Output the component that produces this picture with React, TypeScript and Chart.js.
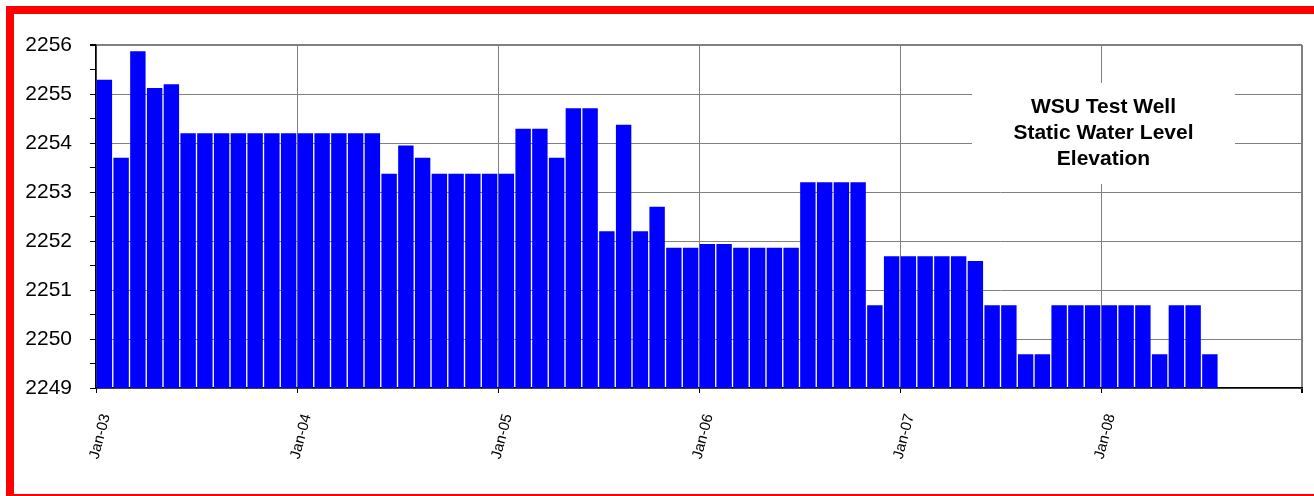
import React, { useEffect, useRef } from 'react';
import { Chart, registerables } from 'chart.js';

Chart.register(...registerables);

const FONT = '"Liberation Sans", Arial, Helvetica, sans-serif';

const yearLabels = ['Jan-03', 'Jan-04', 'Jan-05', 'Jan-06', 'Jan-07', 'Jan-08'];

const levels2003 = [2255.29, 2253.70, 2255.87, 2255.12, 2255.20, 2254.20, 2254.20, 2254.20, 2254.20, 2254.20, 2254.20, 2254.20];
const levels2004 = [2254.20, 2254.20, 2254.20, 2254.20, 2254.20, 2253.37, 2253.95, 2253.70, 2253.37, 2253.37, 2253.37, 2253.37];
const levels2005 = [2253.37, 2254.29, 2254.29, 2253.70, 2254.71, 2254.71, 2252.20, 2254.37, 2252.20, 2252.70, 2251.86, 2251.86];
const levels2006 = [2251.94, 2251.94, 2251.86, 2251.86, 2251.86, 2251.86, 2253.20, 2253.20, 2253.20, 2253.20, 2250.69, 2251.69];
const levels2007 = [2251.69, 2251.69, 2251.69, 2251.69, 2251.59, 2250.69, 2250.69, 2249.69, 2249.69, 2250.69, 2250.69, 2250.69];
const levels2008 = [2250.69, 2250.69, 2250.69, 2249.69, 2250.69, 2250.69, 2249.69, null, null, null, null, null];

const titleLines = ['WSU Test Well', 'Static Water Level', 'Elevation'];

const monthlyLevels: (number | null)[] = [
  ...levels2003, ...levels2004, ...levels2005, ...levels2006, ...levels2007, ...levels2008,
];

const titleBoxPlugin = {
  id: 'titleBox',
  afterDatasetsDraw(chart: any) {
    const { ctx, chartArea } = chart;
    const w = 263;
    const h = 101;
    const x = chartArea.right - 67 - w;
    const y = chartArea.top + 38;
    ctx.save();
    ctx.fillStyle = '#ffffff';
    ctx.fillRect(x, y, w, h);
    ctx.fillStyle = '#000000';
    ctx.font = `bold 21px ${FONT}`;
    ctx.textAlign = 'center';
    ctx.textBaseline = 'middle';
    titleLines.forEach((t, i) => ctx.fillText(t, x + w / 2, y + 24 + i * 26));
    ctx.restore();
  },
};

export default function App() {
  const ref = useRef<HTMLCanvasElement>(null);

  useEffect(() => {
    const data = monthlyLevels
      .map((v, i) => ({ x: i + 0.5, y: v }))
      .filter((p) => p.y !== null);

    const chart = new Chart(ref.current!, {
      type: 'bar',
      data: {
        datasets: [
          {
            data: data as any,
            backgroundColor: '#0000FF',
            borderWidth: 0,
            barPercentage: 0.92,
            categoryPercentage: 1,
          },
        ],
      },
      options: {
        animation: false,
        responsive: false,
        layout: { padding: { top: 31, right: 12, left: 0, bottom: 0 } },
        plugins: {
          legend: { display: false },
          tooltip: { enabled: false },
          title: { display: false },
        },
        scales: {
          x: {
            type: 'linear',
            min: 0,
            max: 72,
            offset: false,
            grid: {
              offset: false,
              color: '#808080',
              lineWidth: (c: any) => (c.tick && c.tick.value === 72 ? 2 : 1),
              tickColor: '#000000',
              tickLength: 5,
            },
            border: { color: '#000000', width: 1.5 },
            ticks: {
              stepSize: 12,
              autoSkip: false,
              maxRotation: 75,
              minRotation: 75,
              padding: 19,
              labelOffset: 10,
              color: '#000000',
              font: { family: FONT, size: 15 },
              callback: (v: any) => {
                const idx = Number(v) / 12;
                return Number.isInteger(idx) && idx < yearLabels.length ? yearLabels[idx] : '';
              },
            },
            afterFit: (s: any) => {
              s.height = 106;
              s.paddingLeft = 0;
              s.paddingRight = 0;
            },
          },
          y: {
            min: 2249,
            max: 2256,
            grid: {
              color: (c: any) => (c.tick && Number.isInteger(c.tick.value) ? '#808080' : 'rgba(0,0,0,0)'),
              lineWidth: (c: any) => (c.tick && c.tick.value === 2256 ? 2 : 1),
              tickColor: '#000000',
              tickLength: 6,
            },
            border: { color: '#000000', width: 1.5 },
            ticks: {
              stepSize: 0.5,
              autoSkip: false,
              padding: 18,
              color: '#000000',
              font: { family: FONT, size: 21 },
              callback: (v: any) => (Number.isInteger(Number(v)) ? String(v) : ''),
            },
            afterFit: (s: any) => {
              s.width = 82;
            },
          },
        },
      },
      plugins: [titleBoxPlugin],
    });
    return () => chart.destroy();
  }, []);

  return (
    <div style={{ position: 'fixed', left: 0, top: 0, width: 1314, height: 496, overflow: 'hidden', background: '#ffffff' }}>
      <div
        style={{
          position: 'absolute',
          left: 6,
          top: 6,
          width: 1316,
          height: 496,
          border: '8px solid #FF0000',
          boxSizing: 'border-box',
          background: '#ffffff',
        }}
      >
        <canvas ref={ref} width={1300} height={480} style={{ display: 'block', width: 1300, height: 480 }} />
      </div>
    </div>
  );
}
